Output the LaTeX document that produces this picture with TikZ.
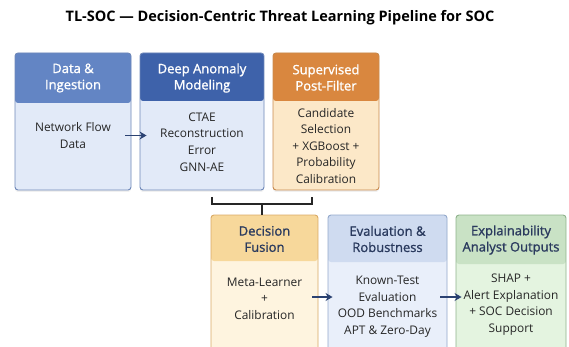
\documentclass[tikz,border=0pt]{standalone}
\usepackage{fontspec}
\setmainfont{Open Sans}
\newfontfamily\headfont[FakeBold=1.3]{Open Sans}
\usetikzlibrary{shadows,arrows.meta}
\definecolor{h1c}{HTML}{6385C4}
\definecolor{h2c}{HTML}{3E62AA}
\definecolor{h3c}{HTML}{D9873F}
\definecolor{h4c}{HTML}{F7D89B}
\definecolor{h5c}{HTML}{CFDBF0}
\definecolor{h6c}{HTML}{C9E2C5}
\definecolor{bluebody}{HTML}{E2EAF8}
\definecolor{orbody}{HTML}{FCE8C8}
\definecolor{ltorbody}{HTML}{FEF4DF}
\definecolor{ltbluebody}{HTML}{E9EFFA}
\definecolor{grbody}{HTML}{E4F4E0}
\definecolor{blueedge}{HTML}{6F88B9}
\definecolor{oredge}{HTML}{C88A4E}
\definecolor{ltoredge}{HTML}{D9AA66}
\definecolor{ltblueedge}{HTML}{93A8CB}
\definecolor{gredge}{HTML}{8FB28C}
\definecolor{navy}{HTML}{2A3A5E}
\definecolor{bodytxt}{HTML}{262626}
\definecolor{arrowc}{HTML}{2B4272}
\tikzset{
  box/.style={rounded corners=3pt, line width=0.9pt, inner sep=0pt,
    drop shadow={shadow xshift=0pt, shadow yshift=-2pt, opacity=0.12}},
  headfill/.style 2 args={path picture={\fill[#1] (path picture bounding box.north west) rectangle ([yshift=-#2]path picture bounding box.north east);}},
  htext/.style={align=center, font=\headfont\fontsize{13}{16.2}\selectfont},
  btext/.style={align=center, font=\fontsize{11.9}{16.5}\selectfont, text=bodytxt},
  arr/.style={-{Stealth[length=7pt,width=8pt]}, line width=1.7pt, draw=arrowc},
  brk/.style={line width=1.2pt, draw=black!85},
}
\begin{document}
\begin{tikzpicture}[x=1pt,y=-1pt]
\path[use as bounding box] (0,0) rectangle (569,347);
\clip (0,0) rectangle (569,347);
\node[font=\fontsize{14.5}{17}\selectfont\bfseries, text=black] (title) at (280,18) {TL-SOC — Decision-Centric Threat Learning Pipeline for SOC};
% top row
\node[box, fill=bluebody, draw=blueedge, headfill={h1c}{50pt}, minimum width=116pt, minimum height=137pt] (b1) at (73,121.5) {};
\node[box, fill=bluebody, draw=blueedge, headfill={h2c}{48pt}, minimum width=124pt, minimum height=137pt] (b2) at (202,121.5) {};
\node[box, fill=orbody, draw=oredge, headfill={h3c}{48pt}, minimum width=106pt, minimum height=137pt] (b3) at (326,121.5) {};
% bottom row
\node[box, fill=ltorbody, draw=ltoredge, headfill={h4c}{46pt}, minimum width=107pt, minimum height=145pt] (b4) at (264.5,287.5) {};
\node[box, fill=ltbluebody, draw=ltblueedge, headfill={h5c}{47pt}, minimum width=119pt, minimum height=145pt] (b5) at (387.5,287.5) {};
\node[box, fill=grbody, draw=gredge, headfill={h6c}{49pt}, minimum width=110pt, minimum height=145pt] (b6) at (511,287.5) {};
% header texts
\node[htext, text=white] (h1) at (73,78) {Data \&\\Ingestion};
\node[htext, text=white] (h2) at (202,78) {Deep Anomaly\\Modeling};
\node[htext, text=white] (h3) at (326,77.5) {Supervised\\Post-Filter};
\node[htext, text=navy] (h4) at (264.5,239) {Decision\\Fusion};
\node[htext, text=navy] (h5) at (387.5,239) {Evaluation \&\\Robustness};
\node[htext, text=navy] (h6) at (511,240) {Explainability\\Analyst Outputs};
% body texts
\node[btext] (t1) at (73,135.5) {Network Flow\\Data};
\node[btext] (t2) at (202,142) {CTAE\\Reconstruction\\Error\\GNN-AE};
\node[btext] (t3) at (326,146) {Candidate\\Selection\\+ XGBoost +\\Probability\\Calibration};
\node[btext] (t4) at (264.5,298.5) {Meta-Learner\\+\\Calibration};
\node[btext] (t5) at (387.5,306.5) {Known-Test\\Evaluation\\OOD Benchmarks\\APT \& Zero-Day};
\node[btext] (t6) at (511,304.5) {SHAP +\\Alert Explanation\\+ SOC Decision\\Support};
% arrows
\draw[arr] ([xshift=-6pt]b1.east |- t1.center) -- ([xshift=7pt]b2.west |- t1.center);
\draw[arr] ([xshift=-6pt]b4.east |- 0,297) -- ([xshift=5pt]b5.west |- 0,297);
\draw[arr] ([xshift=-7pt]b5.east |- 0,297) -- ([xshift=6pt]b6.west |- 0,297);
% bracket
\coordinate (bl) at (212,197);
\coordinate (br) at (312,197);
\coordinate (bm) at (262,204);
\draw[brk] (bl) |- (br |- bm) -- (br);
\draw[brk] (bm) -- (bm |- b4.north);
\end{tikzpicture}
\end{document}
